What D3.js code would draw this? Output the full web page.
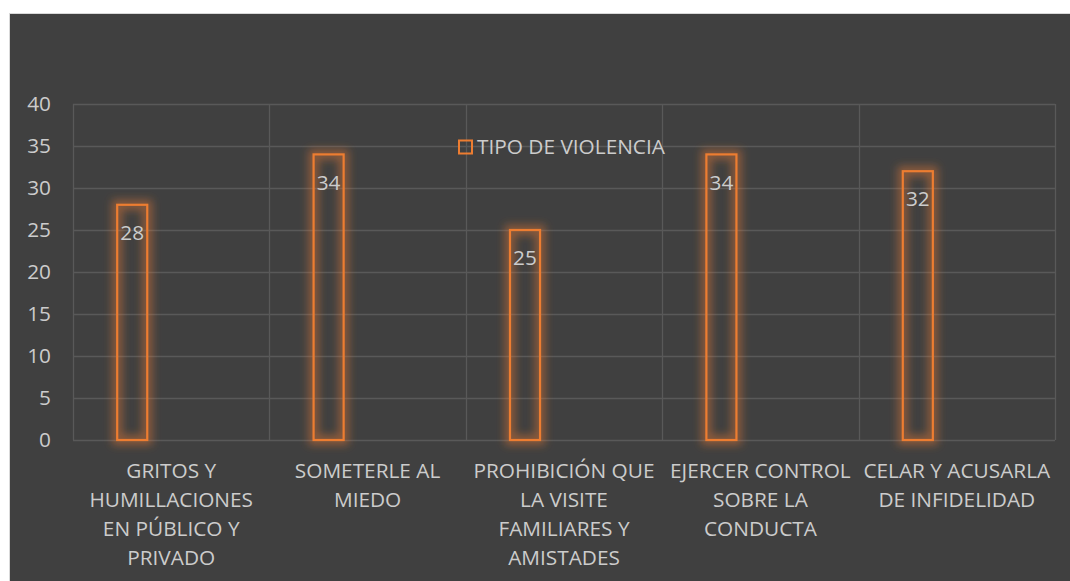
<!DOCTYPE html>
<html>
<head>
<meta charset="utf-8">
<script src="https://cdn.jsdelivr.net/npm/d3@7"></script>
<style>
  body { margin: 0; background: #fff; }
  text { font-family: "Open Sans", sans-serif; }
</style>
</head>
<body>
<svg id="chart" width="1070" height="581"></svg>
<script>
// data
const categories = [
  "GRITOS Y\nHUMILLACIONES\nEN PÚBLICO Y\nPRIVADO",
  "SOMETERLE AL\nMIEDO",
  "PROHIBICIÓN QUE\nLA VISITE\nFAMILIARES Y\nAMISTADES",
  "EJERCER CONTROL\nSOBRE LA\nCONDUCTA",
  "CELAR Y ACUSARLA\nDE INFIDELIDAD"
]
const values = [28, 34, 25, 34, 32]
const seriesName = "TIPO DE VIOLENCIA"
const yTicks = [0, 5, 10, 15, 20, 25, 30, 35, 40]

const svg = d3.select("#chart")
const orange = "#ED7D31"
const textColor = "#cccccc"
const fs = '20.8px'

const margin = { left: 73, right: 15, top: 104, bottom: 141 }
const width = 1070, height = 581

// chart background
svg.append('rect')
  .attr('x', 9.5).attr('y', 13.5)
  .attr('width', 1070).attr('height', 581)
  .attr('fill', '#404040')
  .attr('stroke', '#d9d9d9')

const defs = svg.append('defs')
defs.append('filter').attr('id', 'glow')
  .attr('x', '-50%').attr('y', '-20%').attr('width', '200%').attr('height', '140%')
  .append('feGaussianBlur').attr('stdDeviation', 4)

const x = d3.scaleBand()
  .domain(d3.range(categories.length))
  .range([margin.left, width - margin.right])
  .padding(0)

const y = d3.scaleLinear()
  .domain([0, 40])
  .range([height - margin.bottom, margin.top])

const bw = x.bandwidth()

// gridlines
const grid = svg.append('g').attr('stroke', '#595959').attr('stroke-width', 1.3)
grid.selectAll('.h').data(yTicks).enter().append('line')
  .attr('x1', margin.left).attr('x2', width - margin.right)
  .attr('y1', d => Math.round(y(d)) + 0.5).attr('y2', d => Math.round(y(d)) + 0.5)
grid.selectAll('.v').data(d3.range(categories.length + 1)).enter().append('line')
  .attr('x1', d => Math.round(margin.left + d * bw) + 0.5)
  .attr('x2', d => Math.round(margin.left + d * bw) + 0.5)
  .attr('y1', y(40)).attr('y2', y(0))

// y axis labels
svg.append('g').selectAll('text')
  .data(yTicks)
  .enter()
  .append('text')
  .attr('x', 51)
  .attr('y', d => y(d))
  .attr('dy', '0.35em')
  .attr('text-anchor', 'end')
  .attr('font-size', fs)
  .attr('fill', textColor)
  .text(d => d)

// bars
const barX = i => x(i) + bw * 0.225
const barW = bw * 0.153

const bars = svg.append('g')
bars.selectAll('.glow')
  .data(values)
  .enter()
  .append('rect')
  .attr('x', (d, i) => barX(i))
  .attr('y', d => y(d))
  .attr('width', barW)
  .attr('height', d => y(0) - y(d))
  .attr('fill', 'none')
  .attr('stroke', orange)
  .attr('stroke-width', 10)
  .attr('stroke-opacity', 0.45)
  .attr('filter', 'url(#glow)')

bars.selectAll('.bar')
  .data(values)
  .enter()
  .append('rect')
  .attr('x', (d, i) => barX(i))
  .attr('y', d => y(d))
  .attr('width', barW)
  .attr('height', d => y(0) - y(d))
  .attr('fill', 'none')
  .attr('stroke', orange)
  .attr('stroke-width', 2.2)

// value labels
svg.append('g').selectAll('text')
  .data(values)
  .enter()
  .append('text')
  .attr('x', (d, i) => barX(i) + barW / 2)
  .attr('y', d => y(d) + 28)
  .attr('dy', '0.35em')
  .attr('text-anchor', 'middle')
  .attr('font-size', fs)
  .attr('fill', textColor)
  .text(d => d)

// category labels
const catG = svg.append('g').selectAll('text')
  .data(categories)
  .enter()
  .append('text')
  .attr('text-anchor', 'middle')
  .attr('font-size', fs)
  .attr('fill', textColor)

catG.selectAll('tspan')
  .data((d, i) => d.split('\n').map(l => ({ l, i })))
  .enter()
  .append('tspan')
  .attr('x', d => x(d.i) + bw / 2)
  .attr('y', (d, j) => 471 + j * 29)
  .attr('dy', '0.35em')
  .text(d => d.l)

// legend
const legend = svg.append('g')
legend.append('rect')
  .attr('x', 459).attr('y', 140.5)
  .attr('width', 13).attr('height', 13)
  .attr('fill', 'none')
  .attr('stroke', orange)
  .attr('stroke-width', 2)
legend.append('text')
  .attr('x', 477)
  .attr('y', 147)
  .attr('dy', '0.35em')
  .attr('font-size', fs)
  .attr('fill', textColor)
  .text(seriesName)
</script>
</body>
</html>
